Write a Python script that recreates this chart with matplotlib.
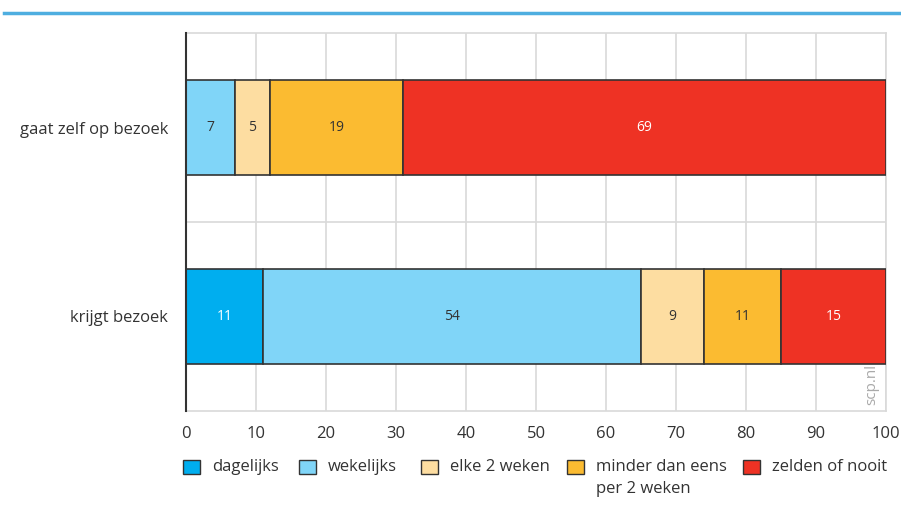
import matplotlib.pyplot as plt
from matplotlib.lines import Line2D
from matplotlib.patches import Rectangle

plt.rcParams['font.family'] = ['Open Sans', 'DejaVu Sans']

categories = ['krijgt bezoek', 'gaat zelf op bezoek']
series = ['dagelijks', 'wekelijks', 'elke 2 weken', 'minder dan eens\nper 2 weken', 'zelden of nooit']
values = {
    'dagelijks': [11, 0],
    'wekelijks': [54, 7],
    'elke 2 weken': [9, 5],
    'minder dan eens\nper 2 weken': [11, 19],
    'zelden of nooit': [15, 69],
}
colors = ['#00aeef', '#80d5f8', '#fddda1', '#fbbb31', '#ee3224']
label_colors = ['white', '#333333', '#333333', '#333333', 'white']
# legend patch left edges in pixels
legend_x = [183, 299, 421, 567, 743]

W, H = 901, 523
fig = plt.figure(figsize=(W / 100, H / 100), dpi=100)
ax = fig.add_axes([186 / W, 1 - 411 / H, 700 / W, 378 / H])

left = [0, 0]
for name, col, tcol in zip(series, colors, label_colors):
    vals = values[name]
    for i, v in enumerate(vals):
        if v == 0:
            continue
        ax.barh(i, v, left=left[i], height=0.5, color=col, edgecolor='#333333', linewidth=1.2, zorder=3)
        ax.text(left[i] + v / 2, i, str(v), ha='center', va='center', fontsize=10, color=tcol, zorder=4)
        left[i] += v

ax.set_xlim(0, 100)
ax.set_ylim(-0.5, 1.5)
ax.set_xticks(range(0, 101, 10))
ax.set_yticks([0, 1])
ax.set_yticklabels(categories)
ax.grid(axis='x', color='#d9d9d9', linewidth=1.2, zorder=0)
ax.axhline(0.5, color='#d9d9d9', linewidth=1.2, zorder=0)
ax.tick_params(axis='both', length=0, colors='#333333')
ax.tick_params(axis='y', pad=13, labelsize=12)
ax.tick_params(axis='x', pad=11, labelsize=12)
for s in ['top', 'right', 'bottom']:
    ax.spines[s].set_color('#d9d9d9')
    ax.spines[s].set_linewidth(1.2)
ax.spines['left'].set_color('#333333')
ax.spines['left'].set_linewidth(1.5)
ax.spines['left'].set_zorder(5)

ax.text(0.98, 0.015, 'scp.nl', transform=ax.transAxes, rotation=90, ha='center', va='bottom',
        fontsize=11, color='#aaaaaa')

fig.add_artist(Line2D([4 / W, 1], [1 - 12.5 / H] * 2, color='#4eaee0', linewidth=2.5))

# legend drawn by hand so the two-line label hangs below the first line
for x, name, col in zip(legend_x, series, colors):
    fig.add_artist(Rectangle((x / W, 1 - 474 / H), 17 / W, 14 / H, facecolor=col,
                             edgecolor='#333333', linewidth=1, transform=fig.transFigure))
    fig.text((x + 29) / W, 1 - 459 / H, name, ha='left', va='top', fontsize=12,
             color='#333333', linespacing=1.5)

fig.savefig('out.png', dpi=100)
